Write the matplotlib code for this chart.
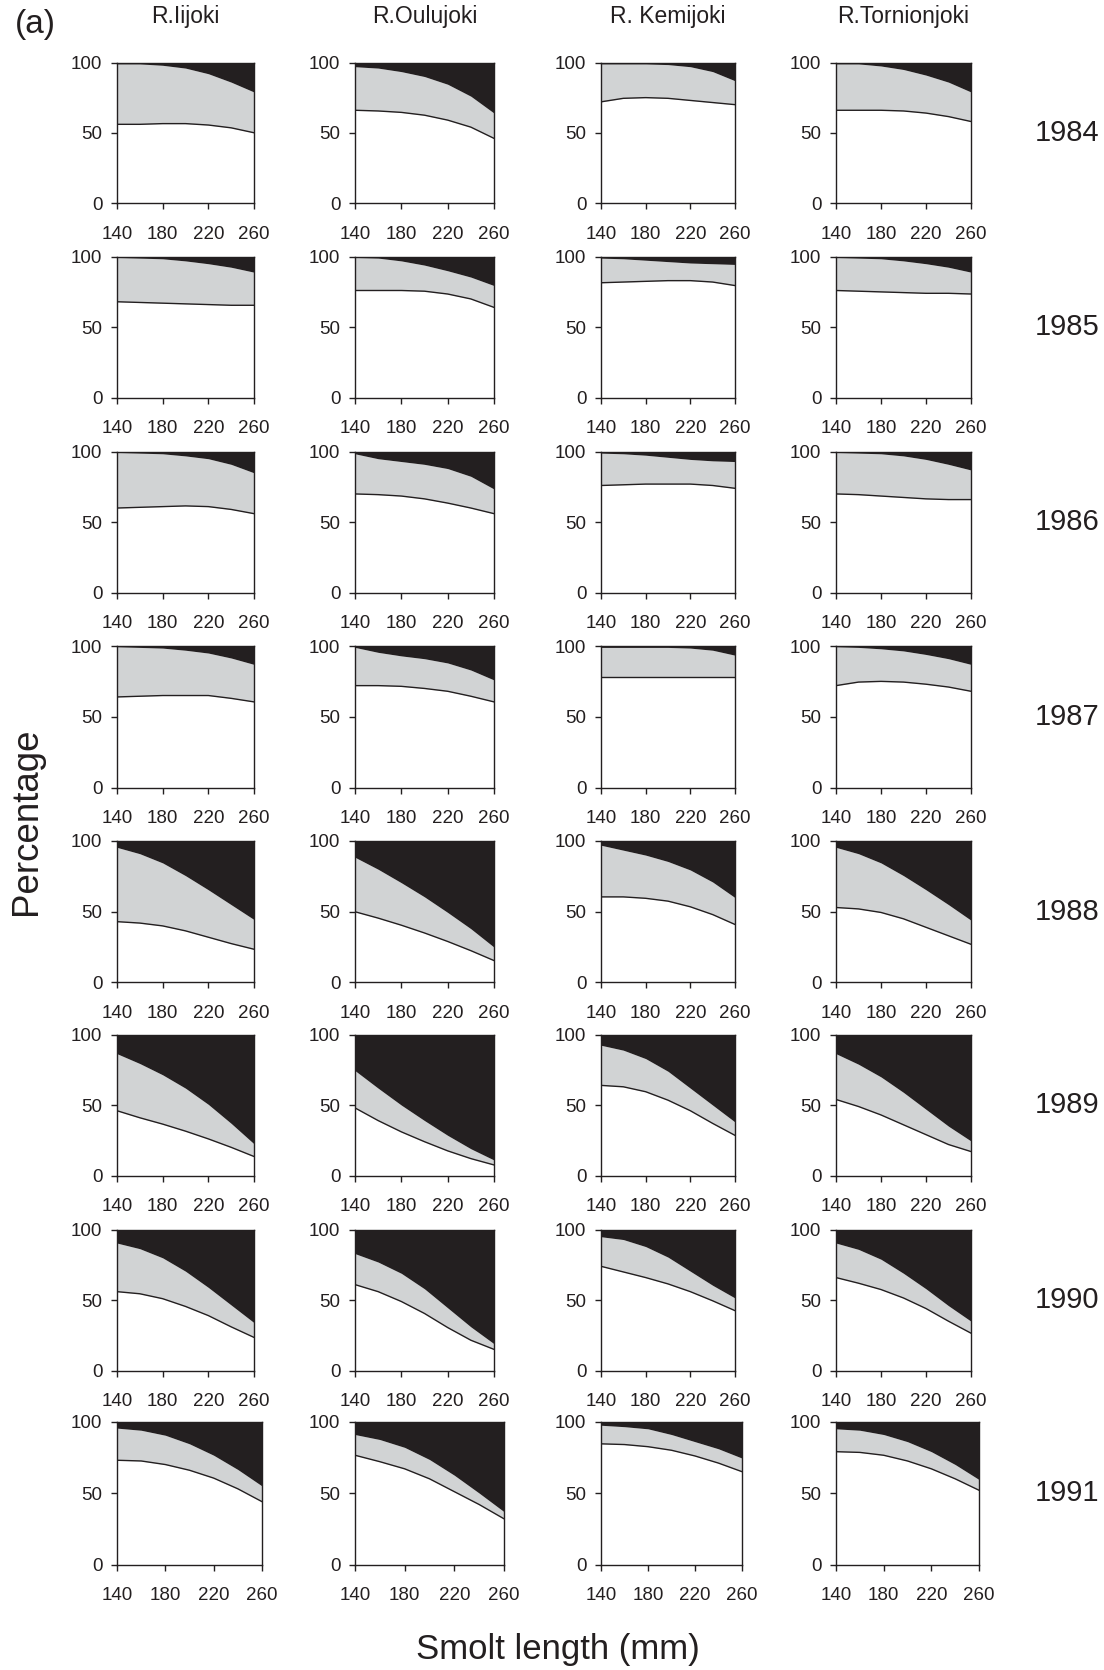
import matplotlib
matplotlib.use('Agg')
import matplotlib.pyplot as plt
import numpy as np

plt.rcParams['font.family'] = ['Liberation Sans', 'DejaVu Sans']

# smolt length (mm) at which the curves were read
lengths = [140, 160, 180, 200, 220, 240, 260]
years = ['1984', '1985', '1986', '1987', '1988', '1989', '1990', '1991']
rivers = ['R.Iijoki', 'R.Oulujoki', 'R. Kemijoki', 'R.Tornionjoki']

# lower curve (white below) and upper curve (black above), one row per year
iijoki_lower = [
    [56, 56, 56.5, 56.5, 55.5, 53.5, 50],
    [68, 67.5, 67, 66.5, 66, 65.5, 65.5],
    [60, 60.5, 61, 61.5, 61, 59, 56],
    [64, 64.5, 65, 65, 65, 63, 60.5],
    [43, 42, 40, 36.5, 32, 27.5, 23.5],
    [46, 41, 36.5, 31.5, 26, 20, 13.5],
    [56, 54.5, 51, 45.5, 39, 31, 23.5],
    [73, 72.5, 70, 66, 60.5, 53, 44],
]
iijoki_upper = [
    [99, 99, 98, 96, 92, 86, 79],
    [99.5, 99, 98.5, 97, 95, 92.5, 89],
    [99.5, 99, 98.5, 97, 95, 91, 85],
    [99.5, 99, 98.5, 97, 95, 91.5, 87],
    [95.5, 91, 84.5, 75.5, 65.5, 55, 44.5],
    [86.5, 79.5, 71.5, 62, 50.5, 37, 22.5],
    [90.5, 86.5, 80, 70.5, 59, 46.5, 34],
    [95.5, 94, 90.5, 84.5, 76.5, 66.5, 55],
]
oulujoki_lower = [
    [66, 65.5, 64.5, 62.5, 59, 54, 46],
    [76, 76, 76, 75.5, 73.5, 70, 64],
    [70, 69.5, 68.5, 66.5, 63.5, 60, 56],
    [72, 72, 71.5, 70, 68, 64.5, 60.5],
    [50, 45.5, 40.5, 35, 29, 22.5, 15.5],
    [48, 39, 31, 24, 17.5, 12, 7.5],
    [61, 56, 49, 40.5, 30.5, 21.5, 15],
    [76.5, 72, 67, 60, 51, 42, 32],
]
oulujoki_upper = [
    [97, 96, 93.5, 90, 84.5, 76, 64],
    [99.5, 99, 97, 94, 90, 85.5, 79.5],
    [98.5, 95, 93, 91, 88, 82.5, 73.5],
    [99, 95.5, 93, 91, 88, 83, 76],
    [88.5, 80, 70.5, 60.5, 49.5, 38, 25],
    [74.5, 62, 50, 39, 28.5, 19, 11],
    [83, 77, 69, 58, 44.5, 31, 19],
    [91, 87.5, 82, 73.5, 62.5, 50, 37],
]
kemijoki_lower = [
    [72, 74.5, 75, 74.5, 73, 71.5, 70],
    [81.5, 82, 82.5, 83, 83, 82, 79.5],
    [76, 76.5, 77, 77, 77, 76, 74],
    [78, 78, 78, 78, 78, 78, 78],
    [60.5, 60.5, 59.5, 57.5, 53.5, 48, 41],
    [64, 63, 59.5, 53.5, 46, 37, 28.5],
    [74, 70, 66, 61.5, 56, 49.5, 42.5],
    [84.5, 84, 82.5, 80, 76, 71, 65],
]
kemijoki_upper = [
    [99, 99, 99, 98.5, 97, 93.5, 87],
    [99, 98.5, 97.5, 96.5, 95.5, 95, 94.5],
    [99, 98.5, 97.5, 96, 94.5, 93.5, 93],
    [99, 99, 99, 99, 98.5, 97, 93.5],
    [97, 93.5, 90, 85.5, 79.5, 71, 60],
    [92.5, 89, 83, 74, 62, 50, 38],
    [95, 93, 88, 80.5, 70.5, 60.5, 51.5],
    [97.5, 96.5, 95, 91, 86, 81, 74.5],
]
tornionjoki_lower = [
    [66, 66, 66, 65.5, 64, 61.5, 58],
    [76, 75.5, 75, 74.5, 74, 74, 73.5],
    [70, 69.5, 68.5, 67.5, 66.5, 66, 66],
    [72, 74.5, 75, 74.5, 73, 71, 68],
    [53, 52, 49.5, 45, 39, 33, 27],
    [54, 49, 43, 36, 29, 22, 17],
    [66, 62, 57.5, 51.5, 44, 35, 26.5],
    [79, 78.5, 76.5, 72.5, 67, 60, 52],
]
tornionjoki_upper = [
    [99, 99, 97.5, 95, 91, 86, 79],
    [99.5, 99, 98.5, 97, 95, 92.5, 89],
    [99.5, 99, 98.5, 97, 94.5, 91, 87],
    [99.5, 99, 98, 96.5, 94, 91, 87],
    [95.5, 91, 84.5, 75.5, 65.5, 55, 44],
    [86.5, 79, 70, 59, 47, 35, 24.5],
    [90.5, 86, 79, 69, 58, 46, 35],
    [95, 94, 91, 86, 79, 70, 59.5],
]

lowers = [iijoki_lower, oulujoki_lower, kemijoki_lower, tornionjoki_lower]
uppers = [iijoki_upper, oulujoki_upper, kemijoki_upper, tornionjoki_upper]

GREY = '#d1d3d4'
BLACK = '#231f20'

W, H = 1104, 1670
fig = plt.figure(figsize=(W / 100, H / 100), dpi=100)

# panel geometry in pixels
col_left = [117, 355, 601, 836]
col_right = [254, 494, 735, 971]
col_right_last = [262, 504, 742, 979]
row_top = [62.5, 256.7, 451.7, 646, 841, 1034.7, 1229.7, 1421.7]
row_bot = [203, 397.5, 592.5, 787.5, 982.5, 1175.5, 1370.5, 1564.5]

x = np.array(lengths)
for r, year in enumerate(years):
    for c in range(4):
        right = col_right_last[c] if r == len(years) - 1 else col_right[c]
        ax = fig.add_axes([col_left[c] / W, 1 - row_bot[r] / H,
                           (right - col_left[c]) / W, (row_bot[r] - row_top[r]) / H])
        lo = np.array(lowers[c][r])
        up = np.array(uppers[c][r])
        ax.fill_between(x, lo, up, color=GREY, lw=0)
        ax.fill_between(x, up, 100, color=BLACK, lw=0)
        ax.plot(x, lo, color=BLACK, lw=1.0)
        ax.set_xlim(140, 260)
        ax.set_ylim(0, 100)
        ax.set_xticks([140, 180, 220, 260])
        ax.set_yticks([0, 50, 100])
        ax.tick_params(direction='out', length=4.5, width=1, labelsize=13.5,
                       colors=BLACK)
        ax.tick_params(axis='x', pad=12)
        ax.tick_params(axis='y', pad=6)
        for s in ax.spines.values():
            s.set_linewidth(1)
            s.set_color(BLACK)
        if r == 0:
            fig.text((col_left[c] + col_right[c]) / 2 / W, 1 - 17 / H, rivers[c],
                     ha='center', va='center', fontsize=16.5, color=BLACK)
    yc = (row_top[r] + row_bot[r]) / 2
    fig.text(1067 / W, 1 - yc / H, year, ha='center', va='center',
             fontsize=21, color=BLACK)

fig.text(35 / W, 1 - 25 / H, '(a)', ha='center', va='center', fontsize=24, color=BLACK)
fig.text(27 / W, 1 - 821 / H, 'Percentage', rotation=90, ha='center', va='center',
         fontsize=26.5, color=BLACK)
fig.text(558 / W, 1 - 1650 / H, 'Smolt length (mm)', ha='center', va='center',
         fontsize=25, color=BLACK)

fig.savefig('out.png', dpi=100)
